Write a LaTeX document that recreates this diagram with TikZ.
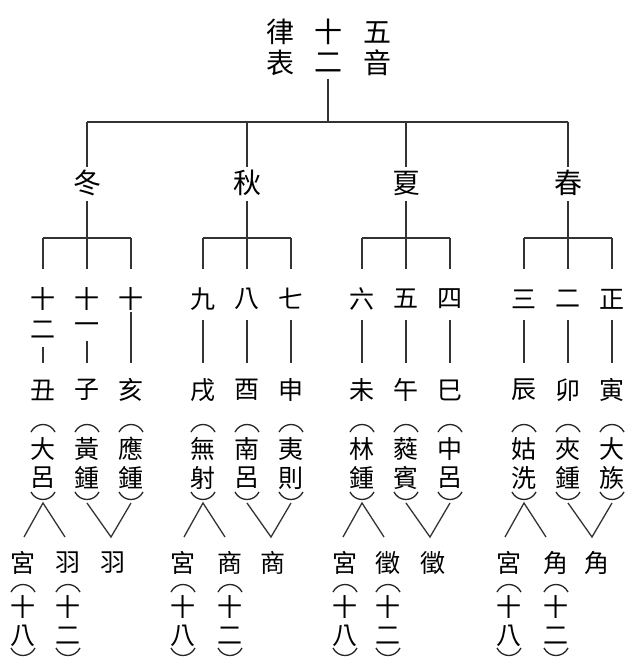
\documentclass[tikz,border=0pt]{standalone}
\usepackage{fontspec}
\newfontfamily\cjk{Noto Sans CJK TC}
% vertical brackets drawn as arcs: #1 = x, #2 = y of the arc's middle
\newcommand\paropen[2]{\draw[arcst] (#1-12,#2+4) .. controls (#1-7,#2-6) and (#1+7,#2-6) .. (#1+12,#2+4);}
\newcommand\parclose[2]{\draw[arcst] (#1-12,#2-4) .. controls (#1-7,#2+6) and (#1+7,#2+6) .. (#1+12,#2-4);}
\begin{document}
\begin{tikzpicture}[x=1pt,y=-1pt,
  ch/.style={inner sep=0pt,minimum size=25pt,font=\cjk\fontsize{25}{25}\selectfont},
  big/.style={ch,font=\cjk\fontsize{28}{28}\selectfont},
  arcst/.style={line width=1.3pt,draw=black!85},
  ln/.style={line width=1.3pt,draw=black!80}]
\useasboundingbox[fill=white] (0,0) rectangle (628,658);
% title
\node[big] (t1) at (280,32) {律};
\node[big] (t2) at (280,63) {表};
\node[big] (t3) at (328,32) {十};
\node[big] (t4) at (328,63) {二};
\node[big] (t5) at (377,32) {五};
\node[big] (t6) at (377,63) {音};
\coordinate (bar) at (328,122);
\draw[ln,shorten <=3pt] (t4.south) -- (bar);
% groups
\foreach \g/\L/\s/\pa/\pb/\pc/\pd/\pe/\pf/\ba/\bb/\bc/\ua/\ub/\uc/\oa/\ob/\oc/\ta/\tb in {
  1/43/冬/大/呂/黃/鍾/應/鍾/丑/子/亥/宮/羽/羽/-20/25/70/八/二,
  2/203/秋/無/射/南/呂/夷/則/戌/酉/申/宮/商/商/-20/27/70/八/二,
  3/362/夏/林/鍾/蕤/賓/中/呂/未/午/巳/宮/徵/徵/-17/26/71/八/二,
  4/524/春/姑/洗/夾/鍾/大/族/辰/卯/寅/宮/角/角/-15/32/73/八/二}{
  \node[big] (s\g) at (\L+44,183) {\s};
  \coordinate (sb\g) at (\L+44,238);
  \coordinate (sl\g) at (\L,238);
  \coordinate (sr\g) at (\L+88,238);
  \draw[ln,shorten <=5pt] (s\g.south) -- (sb\g);
  \draw[ln] (sl\g) -- (sr\g);
  % branches
  \node[ch] (r\g a) at (\L,390) {\ba};
  \node[ch] (r\g b) at (\L+44,390) {\bb};
  \node[ch] (r\g c) at (\L+88,390) {\bc};
  % pitch names in brackets
  \foreach \c/\x/\u/\v in {a/0/\pa/\pb, b/44/\pc/\pd, c/88/\pe/\pf}{
    \paropen{\L+\x}{428}
    \node[ch] (p\g\c1) at (\L+\x,449) {\u};
    \node[ch] (p\g\c2) at (\L+\x,478) {\v};
    \parclose{\L+\x}{496}
    \coordinate (q\g\c) at (\L+\x,503);
  }
  % Lambda and V
  \coordinate (la\g) at (\L-19,537);
  \coordinate (lb\g) at (\L+22,537);
  \coordinate (vv\g) at (\L+68,537);
  \draw[ln] (la\g) -- (q\g a) -- (lb\g);
  \draw[ln] (q\g b) -- (vv\g) -- (q\g c);
  % bottom notes
  \node[ch] (u\g a) at (\L+\oa,563) {\ua};
  \node[ch] (u\g b) at (\L+\ob,563) {\ub};
  \node[ch] (u\g c) at (\L+\oc,563) {\uc};
  \paropen{\L+\oa}{588}
  \paropen{\L+\ob}{588}
  \node[ch] (y\g a) at (\L+\oa,607) {十};
  \node[ch] (y\g b) at (\L+\ob,607) {十};
  \node[ch] (z\g a) at (\L+\oa,636) {\ta};
  \node[ch] (z\g b) at (\L+\ob,636) {\tb};
  \parclose{\L+\oa}{652}
  \parclose{\L+\ob}{652}
}
\draw[ln] (bar -| s1) -- (bar -| s4);
\foreach \g in {1,...,4}{
  \draw[ln,shorten >=3pt] (bar -| s\g) -- (s\g.north);
}
% numerals
\foreach \g/\L/\na/\nb/\nc in {2/203/九/八/七, 3/362/六/五/四, 4/524/三/二/正}{
  \node[ch] (n\g a) at (\L,299) {\na};
  \node[ch] (n\g b) at (\L+44,299) {\nb};
  \node[ch] (n\g c) at (\L+88,299) {\nc};
  \foreach \c in {a,b,c}{
    \draw[ln,shorten >=17pt] (sl\g -| n\g\c) -- (n\g\c.north);
    \draw[ln,shorten <=8pt,shorten >=14pt] (n\g\c.south) -- (r\g\c.north);
  }
}
\node[ch] (m1a) at (43,299) {十};
\node[ch] (n1a) at (43,330) {二};
\node[ch] (m1b) at (87,299) {十};
\node[ch] (n1b) at (87,328) {一};
\node[ch] (n1c) at (131,299) {十};
\draw[ln,shorten >=17pt] (sl1 -| m1a) -- (m1a.north);
\draw[ln,shorten >=17pt] (sl1 -| m1b) -- (m1b.north);
\draw[ln,shorten >=17pt] (sl1 -| n1c) -- (n1c.north);
\draw[ln,shorten <=4pt,shorten >=14pt] (n1a.south) -- (r1a.north);
\draw[ln,shorten <=0pt,shorten >=14pt] (n1b.south) -- (r1b.north);
\draw[ln,shorten <=0pt,shorten >=14pt] (n1c.south) -- (r1c.north);
\end{tikzpicture}
\end{document}
